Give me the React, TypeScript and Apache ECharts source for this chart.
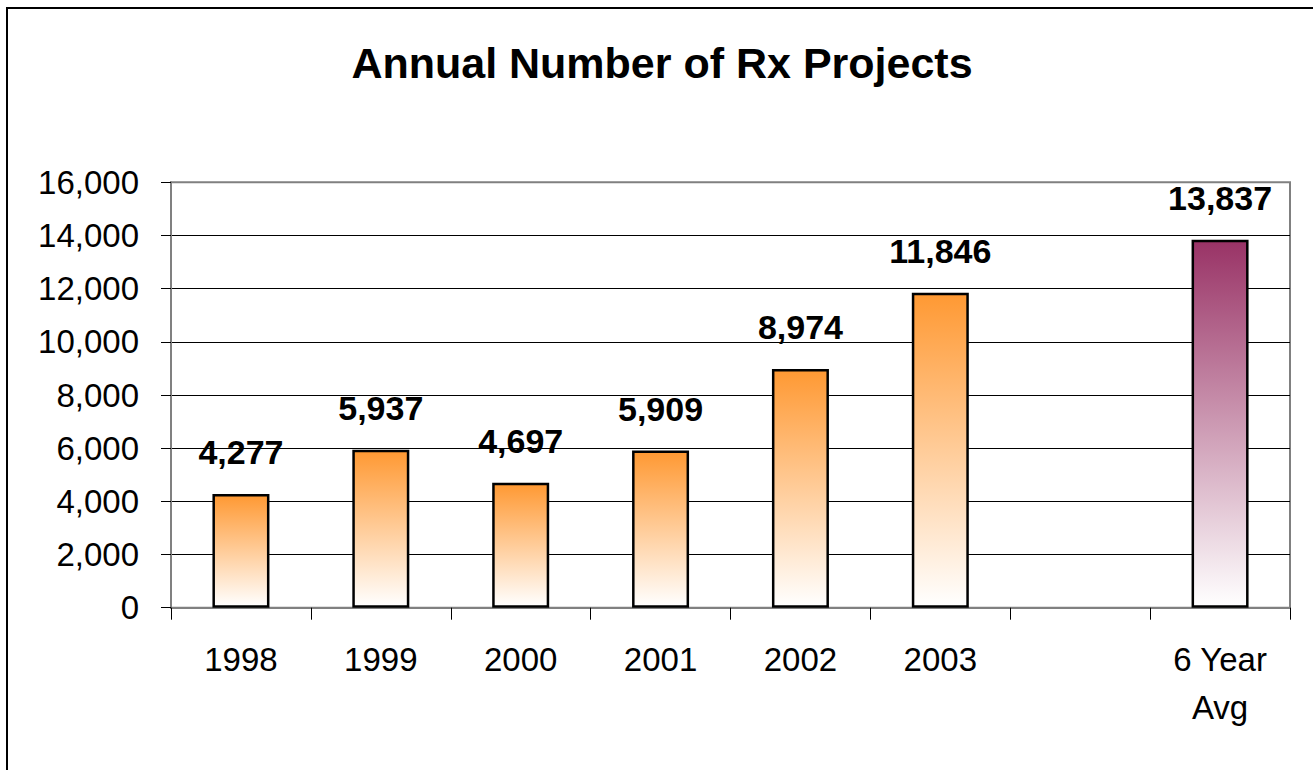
import React, { useEffect, useRef } from "react";
import * as echarts from "echarts";

const categories = ["1998", "1999", "2000", "2001", "2002", "2003", "", "6 Year\nAvg"];
const values: (number | null)[] = [4277, 5937, 4697, 5909, 8974, 11846, null, 13837];
const topColors = ["#FF9933", "#FF9933", "#FF9933", "#FF9933", "#FF9933", "#FF9933", "#FF9933", "#993366"];
const yTicks = { min: 0, max: 16000, interval: 2000 };
const titleText = "Annual Number of Rx Projects";

const FONT = '"Liberation Sans", Arial, sans-serif';

export default function App() {
  const ref = useRef<HTMLDivElement>(null);
  useEffect(() => {
    if (!ref.current) return;
    const chart = echarts.init(ref.current, null, { renderer: "svg" });
    const data = values.map((v, i) => ({
      value: v,
      itemStyle: {
        color: new echarts.graphic.LinearGradient(0, 0, 0, 1, [
          { offset: 0, color: topColors[i] },
          { offset: 1, color: "#FFFFFF" },
        ]),
        borderColor: "#000",
        borderWidth: 2.5,
      },
    }));
    const splitColors = ["#808080", "#000", "#000", "#000", "#000", "#000", "#000", "#000", "#808080"];
    chart.setOption({
      animation: false,
      backgroundColor: "#fff",
      textStyle: { fontFamily: FONT },
      title: {
        text: titleText,
        left: 662,
        textAlign: "center",
        top: 41,
        padding: 0,
        textStyle: { fontSize: 43, fontWeight: "bold", color: "#000", fontFamily: FONT, lineHeight: 43 },
      },
      graphic: [
        {
          type: "rect",
          shape: { x: 7, y: 8, width: 1400, height: 900 },
          style: { fill: "none", stroke: "#000", lineWidth: 2 },
          silent: true,
        },
      ],
      grid: {
        left: 171,
        right: 23,
        top: 182.3,
        bottom: 162.3,
        show: true,
        borderColor: "#808080",
        borderWidth: 2,
        backgroundColor: "transparent",
      },
      xAxis: {
        type: "category",
        data: categories,
        axisLine: { lineStyle: { color: "#808080", width: 2 } },
        axisTick: { show: true, length: 12, lineStyle: { color: "#000", width: 1 } },
        axisLabel: {
          fontSize: 33,
          color: "#000",
          fontFamily: FONT,
          lineHeight: 48,
          margin: 28,
          interval: 0,
        },
      },
      yAxis: {
        type: "value",
        min: yTicks.min,
        max: yTicks.max,
        interval: yTicks.interval,
        axisLine: { show: true, lineStyle: { color: "#808080", width: 2 } },
        axisTick: { show: true, length: 10, lineStyle: { color: "#000", width: 1 } },
        axisLabel: {
          fontSize: 33,
          color: "#000",
          fontFamily: FONT,
          margin: 32,
          formatter: (v: number) => v.toLocaleString("en-US"),
        },
        splitLine: { show: true, lineStyle: { color: splitColors, width: 1 } },
      },
      series: [
        {
          type: "bar",
          data,
          barWidth: 57,
          label: {
            show: true,
            position: "top",
            distance: 25,
            fontSize: 34,
            fontWeight: "bold",
            color: "#000",
            fontFamily: FONT,
            formatter: (p: any) => (p.value == null ? "" : Number(p.value).toLocaleString("en-US")),
          },
        },
      ],
    });
    return () => chart.dispose();
  }, []);
  return (
    <div
      ref={ref}
      style={{ position: "absolute", left: 0, top: 0, width: 1313, height: 770 }}
    />
  );
}
